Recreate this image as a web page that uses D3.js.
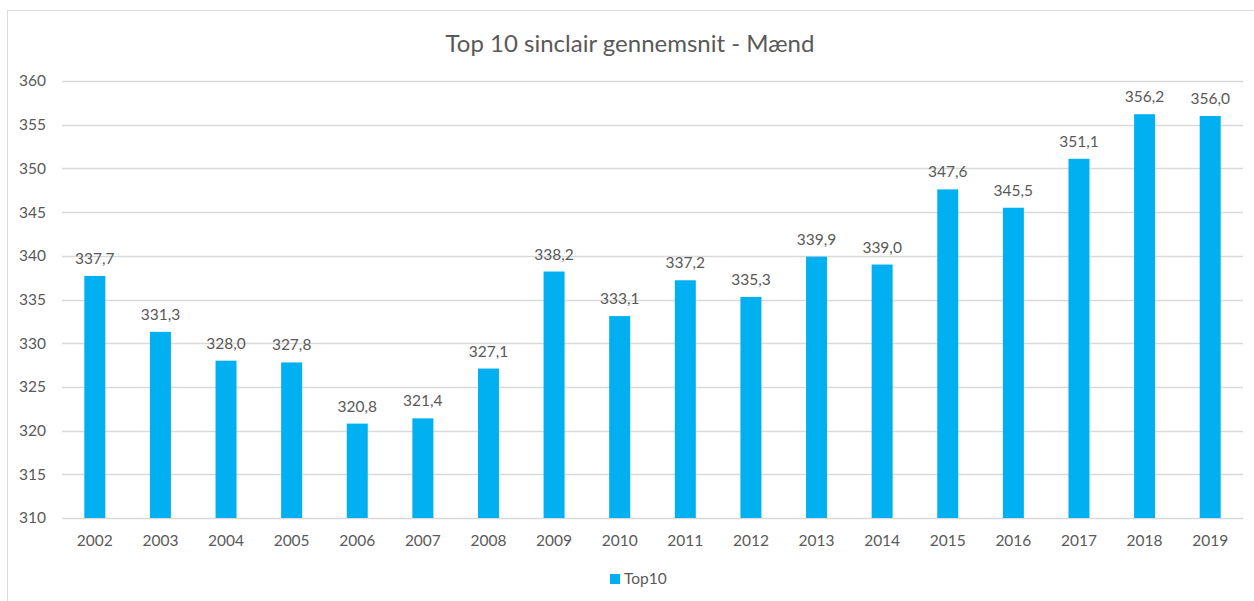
<!DOCTYPE html>
<html><head><meta charset="utf-8">
<script src="https://cdn.jsdelivr.net/npm/d3@7"></script>
<style>body{margin:0;background:#fff;} text{font-family:Lato, "Open Sans", sans-serif;}</style>
</head><body><svg id="c" width="1254" height="601"></svg>
<script>
const title = "Top 10 sinclair gennemsnit - Mænd";
const years = ["2002","2003","2004","2005","2006","2007","2008","2009","2010","2011","2012","2013","2014","2015","2016","2017","2018","2019"];
const top10 = [337.7,331.3,328.0,327.8,320.8,321.4,327.1,338.2,333.1,337.2,335.3,339.9,339.0,347.6,345.5,351.1,356.2,356.0];
const yTicks = [310,315,320,325,330,335,340,345,350,355,360];
const seriesName = "Top10";

const svg = d3.select("#c");
const grey = "#595959";
svg.append("rect").attr("x",7.5).attr("y",10.5).attr("width",1260).attr("height",620)
  .attr("fill","#fff").attr("stroke","#d9d9d9");

const x = d3.scaleBand().domain(years).range([62,1243]).paddingInner(0.68).paddingOuter(0.34);
const y = d3.scaleLinear().domain([310,360]).range([518,81]);

svg.append("g").selectAll("line").data(yTicks).join("line")
  .attr("x1",62).attr("x2",1243).attr("y1",d=>Math.round(y(d))+0.5).attr("y2",d=>Math.round(y(d))+0.5)
  .attr("stroke","#d9d9d9").attr("stroke-width",1.3);

svg.append("g").selectAll("text").data(yTicks).join("text")
  .attr("x",46).attr("y",d=>y(d)).attr("dy","0.35em").attr("text-anchor","end")
  .attr("fill",grey).style("font-size","15.5px").text(d=>d);

svg.append("g").selectAll("rect").data(top10).join("rect")
  .attr("x",(d,i)=>x(years[i])).attr("width",x.bandwidth())
  .attr("y",d=>y(d)).attr("height",d=>y(310)-y(d)).attr("fill","#00b0f0");

svg.append("g").selectAll("text").data(top10).join("text")
  .attr("x",(d,i)=>x(years[i])+x.bandwidth()/2).attr("y",d=>y(d)-12)
  .attr("text-anchor","middle").attr("fill",grey).style("font-size","15.5px")
  .text(d=>d.toFixed(1).replace(".",","));

svg.append("g").selectAll("text").data(years).join("text")
  .attr("x",d=>x(d)+x.bandwidth()/2).attr("y",541).attr("dy","0.35em")
  .attr("text-anchor","middle").attr("fill",grey).style("font-size","15.5px").text(d=>d);

svg.append("text").attr("x",630).attr("y",52).attr("text-anchor","middle")
  .attr("fill",grey).style("font-size","24px").text(title);

svg.append("rect").attr("x",610).attr("y",574).attr("width",10).attr("height",10).attr("fill","#00b0f0");
svg.append("text").attr("x",624).attr("y",579).attr("dy","0.35em").attr("fill",grey).style("font-size","15.5px").text(seriesName);
</script></body></html>
